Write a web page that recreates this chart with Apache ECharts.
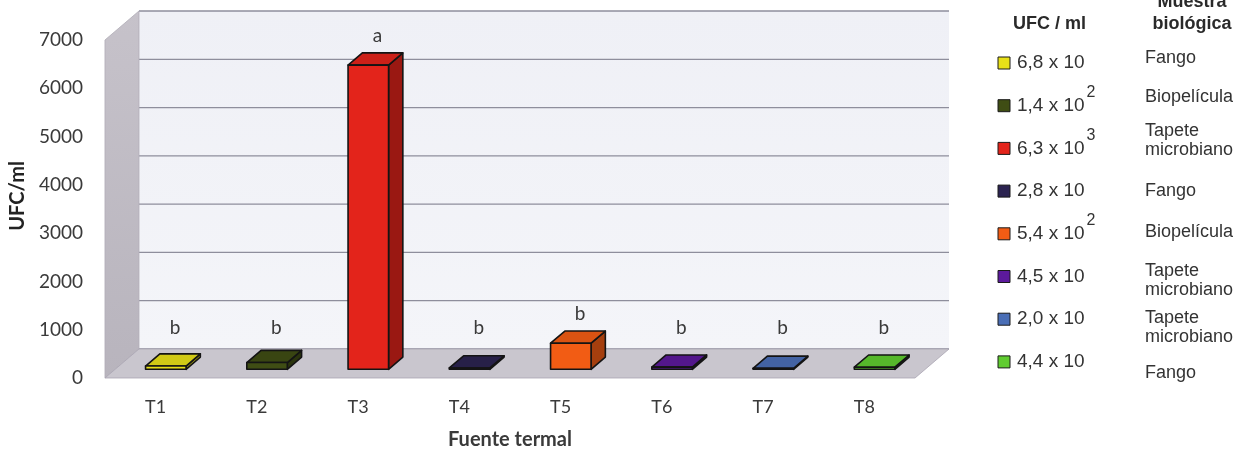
<!DOCTYPE html>
<html>
<head>
<meta charset="utf-8">
<script src="https://cdn.jsdelivr.net/npm/echarts@6/dist/echarts.min.js"></script>
<style>
  html, body { margin: 0; padding: 0; background: #ffffff; }
  #main { width: 1246px; height: 455px; }
</style>
</head>
<body>
<div id="main"></div>
<script>
// Fuentes termales y recuento de UFC/ml
const fuentes = ['T1', 'T2', 'T3', 'T4', 'T5', 'T6', 'T7', 'T8'];
const ufcPorMl = [68, 140, 6300, 28, 540, 45, 20, 44];
const mantisa = ['6,8', '1,4', '6,3', '2,8', '5,4', '4,5', '2,0', '4,4'];
const exponente = ['', '2', '3', '', '2', '', '', ''];
const letras = ['b', 'b', 'a', 'b', 'b', 'b', 'b', 'b'];
const muestras = ['Fango', 'Biopelícula', 'Tapete\nmicrobiano', 'Fango', 'Biopelícula',
                  'Tapete\nmicrobiano', 'Tapete\nmicrobiano', 'Fango'];
const yTicks = [0, 1000, 2000, 3000, 4000, 5000, 6000, 7000];

// Colores de cada fuente
const colores = ['#e8e018', '#3f4d14', '#e3241b', '#2b2350', '#f25c14', '#5c1a9c', '#4a6eb6', '#60cc30'];

// Perspectiva: vector de profundidad del suelo y posición de las cajas en él
const DX = 34, DY = -29;
const F_FRONT = 0.30, F_BACK = 0.72;
const BAR_WIDTH = 0.40;

// Disposición de la leyenda
const LEG_X = 998, LEG_Y0 = 63, LEG_STEP = 42.7;
const MUESTRA_X = 1145;
const MUESTRA_Y = [58, 97, 141, 191, 232, 281, 328, 373];

const TXT = '#3a3a3a';
const chart = echarts.init(document.getElementById('main'));

function shade(hex, k) {
  const c = echarts.color.parse(hex);
  return 'rgb(' + [0, 1, 2].map(function (j) { return Math.round(c[j] * k); }).join(',') + ')';
}

function renderWalls(params, api) {
  const cs = params.coordSys;
  const xL = cs.x, xR = cs.x + cs.width;
  const yB = api.coord([0, yTicks[0]])[1];
  const yT = api.coord([0, yTicks[yTicks.length - 1]])[1];
  const children = [];
  // pared del fondo
  children.push({
    type: 'polygon',
    shape: { points: [[xL + DX, yT + DY], [xR + DX, yT + DY], [xR + DX, yB + DY], [xL + DX, yB + DY]] },
    style: { fill: new echarts.graphic.LinearGradient(0, 0, 0, 1, [
      { offset: 0, color: '#eff0f6' }, { offset: 1, color: '#f4f5f9' }]) }
  });
  // líneas de división sobre la pared del fondo
  yTicks.forEach(function (v) {
    const y = api.coord([0, v])[1] + DY;
    children.push({
      type: 'line',
      shape: { x1: xL + DX, y1: y, x2: xR + DX, y2: y },
      style: { stroke: '#8e8e9c', lineWidth: 1.3 }
    });
  });
  // pared lateral
  children.push({
    type: 'polygon',
    shape: { points: [[xL, yB], [xL + DX, yB + DY], [xL + DX, yT + DY], [xL, yT]] },
    style: {
      fill: new echarts.graphic.LinearGradient(0, 0, 0, 1, [
        { offset: 0, color: '#c6c2ca' }, { offset: 1, color: '#b8b4bd' }]),
      stroke: '#b0acb6', lineWidth: 0.8
    }
  });
  // suelo
  children.push({
    type: 'polygon',
    shape: { points: [[xL, yB], [xR, yB], [xR + DX, yB + DY], [xL + DX, yB + DY]] },
    style: { fill: '#c9c6ce', stroke: '#a9a5b2', lineWidth: 0.8 }
  });
  return { type: 'group', children: children };
}

function renderBox(i) {
  const base = colores[i];
  const topColor = shade(base, 0.9);
  const sideColor = shade(base, 0.68);
  return function (params, api) {
    const foot = api.coord([api.value(0), 0]);
    const head = api.coord([api.value(0), api.value(1)]);
    const band = api.size([1, 0])[0];
    const w = band * BAR_WIDTH;
    const sx = DX * F_FRONT, sy = DY * F_FRONT;
    const ddx = DX * (F_BACK - F_FRONT), ddy = DY * (F_BACK - F_FRONT);
    const xl = foot[0] - w / 2 + sx, xr = xl + w;
    const yb = foot[1] + sy, yt = head[1] + sy;
    const edge = { stroke: '#141414', lineWidth: 1.6, lineJoin: 'round' };
    const labelY = Math.min(yt + ddy - 17, foot[1] - 50);
    return {
      type: 'group',
      children: [
        { type: 'polygon', shape: { points: [[xr, yt], [xr + ddx, yt + ddy], [xr + ddx, yb + ddy], [xr, yb]] },
          style: Object.assign({ fill: sideColor }, edge) },
        { type: 'polygon', shape: { points: [[xl, yt], [xl + ddx, yt + ddy], [xr + ddx, yt + ddy], [xr, yt]] },
          style: Object.assign({ fill: topColor }, edge) },
        { type: 'polygon', shape: { points: [[xl, yt], [xr, yt], [xr, yb], [xl, yb]] },
          style: Object.assign({ fill: base }, edge) },
        { type: 'text', x: (xl + xr) / 2 + ddx / 2 + 2, y: labelY,
          style: { text: letras[i], fill: TXT, fontFamily: 'Lato', fontSize: 19,
                   align: 'center', verticalAlign: 'middle' } }
      ]
    };
  };
}

const series = [{
  type: 'custom',
  name: 'paredes',
  z: 1,
  silent: true,
  renderItem: renderWalls,
  data: [[0, 0]]
}];
fuentes.forEach(function (f, i) {
  series.push({
    type: 'custom',
    name: f,
    z: 2,
    itemStyle: { color: colores[i] },
    renderItem: renderBox(i),
    data: [[i, ufcPorMl[i]]]
  });
});

// Leyenda: UFC/ml con exponente y tipo de muestra
const LEG_FONT = '19px "Liberation Sans"';
const measureCtx = document.createElement('canvas').getContext('2d');
measureCtx.font = LEG_FONT;

const graphicEls = [
  { type: 'text', x: 1013, y: 24,
    style: { text: 'UFC / ml', fill: '#2a2a2a', fontFamily: 'Liberation Sans', fontSize: 18,
             fontWeight: 'bold', verticalAlign: 'middle' } },
  { type: 'text', x: 1192, y: 13,
    style: { text: 'Muestra\nbiológica', fill: '#2a2a2a', fontFamily: 'Liberation Sans', fontSize: 18,
             fontWeight: 'bold', lineHeight: 22, align: 'center', verticalAlign: 'middle' } }
];
fuentes.forEach(function (f, i) {
  const y = LEG_Y0 + i * LEG_STEP;
  const label = mantisa[i] + ' x 10';
  graphicEls.push({
    type: 'rect', shape: { x: LEG_X, y: y - 6, width: 12, height: 12 },
    style: { fill: colores[i], stroke: '#1a1a1a', lineWidth: 1 }
  });
  graphicEls.push({
    type: 'text', x: LEG_X + 19, y: y,
    style: { text: label, fill: '#333333', font: LEG_FONT, verticalAlign: 'middle' }
  });
  if (exponente[i]) {
    graphicEls.push({
      type: 'text', x: LEG_X + 21 + measureCtx.measureText(label).width, y: y - 13,
      style: { text: exponente[i], fill: '#333333', fontFamily: 'Liberation Sans', fontSize: 16,
               verticalAlign: 'middle' }
    });
  }
  graphicEls.push({
    type: 'text', x: MUESTRA_X, y: MUESTRA_Y[i],
    style: { text: muestras[i], fill: '#333333', fontFamily: 'Liberation Sans', fontSize: 18,
             lineHeight: 19, align: 'left', verticalAlign: 'middle' }
  });
});

chart.setOption({
  animation: false,
  backgroundColor: '#ffffff',
  grid: { left: 103, right: 331, top: 40, bottom: 77 },
  xAxis: {
    type: 'category',
    data: fuentes,
    axisLine: { show: false },
    axisTick: { show: false },
    axisLabel: { color: TXT, fontFamily: 'Lato', fontSize: 18, margin: 20 },
    name: 'Fuente termal',
    nameLocation: 'middle',
    nameGap: 52,
    nameTextStyle: { color: TXT, fontFamily: 'Lato', fontSize: 20, fontWeight: 'bold' }
  },
  yAxis: {
    type: 'value',
    min: yTicks[0],
    max: yTicks[yTicks.length - 1],
    interval: 1000,
    axisLine: { show: false },
    axisTick: { show: false },
    splitLine: { show: false },
    axisLabel: { color: TXT, fontFamily: 'Lato', fontSize: 19, margin: 22,
                 formatter: function (v) { return String(v); } },
    name: 'UFC/ml',
    nameLocation: 'middle',
    nameGap: 70,
    nameTextStyle: { color: '#222', fontFamily: 'Lato', fontSize: 20, fontWeight: 'bold',
                     padding: [0, 0, 0, 26] }
  },
  graphic: graphicEls,
  series: series
});
</script>
</body>
</html>
